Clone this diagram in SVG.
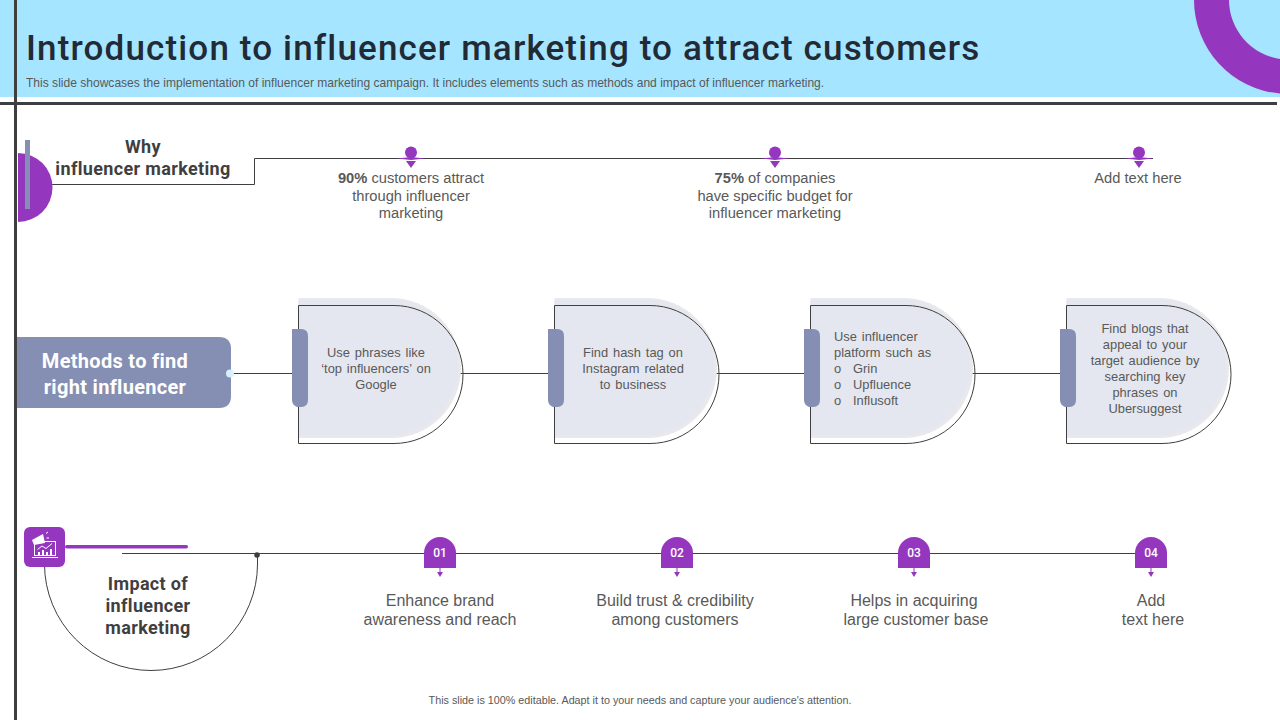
<svg xmlns="http://www.w3.org/2000/svg" width="1280" height="720" viewBox="0 0 1280 720">
<style>
text{font-family:"Liberation Sans",Arial,sans-serif;fill:#595959;text-anchor:middle}
.h{font-family:Roboto,"Liberation Sans",sans-serif;font-weight:700;fill:#3f3f3f;font-size:18px;letter-spacing:.35px}
.m{font-family:Roboto,"Liberation Sans",sans-serif;font-weight:700;font-size:20px;letter-spacing:.3px;fill:#fff}
.b{font-size:14.7px}
.c{font-size:12.9px;word-spacing:1.3px}
.l{text-anchor:start}
.i{font-size:16px}
.ln{fill:none;stroke:#3f3f3f;stroke-width:1}
.p{fill:#9537be}
.s{fill:#858eb3}
.num{font-family:Roboto,"Liberation Sans",sans-serif;font-size:12px;font-weight:500;fill:#fff}
.card{fill:#e4e7ef}
.sh{fill:#e9e9eb}
</style>
<defs>
<g id="card">
<path class="sh" d="M.5 298H93A70 70 0 0 1 93 438H.5Z"/>
<path class="card" d="M.5 300H92.500A67.500 67.500 0 0 1 92.500 435H.5Z"/>
<path class="ln" d="M.5 305.500H96A69 69 0 0 1 96 443.500H.5Z"/>
<path class="s" d="M-6 329H3Q10 329 10 336V400Q10 407 3 407H-1Q-6 405 -6 400Z"/>
</g>
<g id="pin">
<path class="p" d="M-14 158.500L0 157L14 158.500L0 160Z"/>
<circle class="p" cx="0" cy="152.500" r="6"/>
<path class="p" d="M-5 161H5L0 168Z"/>
</g>
<g id="badge">
<path class="p" d="M-16 568V553A16 16 0 0 1 16 553V568Z"/>
<path class="p" d="M-.5 568H.5V573H-.5Z"/>
<path class="p" d="M-3 572H3L0 577Z"/>
</g>
</defs>

<g id="header">
<rect width="1280" height="97" fill="#a6e5ff"/>
<path class="p" d="M1194 0A94 94 0 0 0 1280 93.500V59A60 60 0 0 1 1229 0Z"/>
<rect x="0" y="102" width="1277" height="3" fill="#3f3f3f"/>
<rect x="14" y="0" width="3" height="720" fill="#3f3f3f"/>
<text x="26" y="60" style="text-anchor:start;font-family:Roboto,'Liberation Sans',sans-serif;font-weight:500;font-size:35px;letter-spacing:1.15px;fill:#222a35">Introduction to influencer marketing to attract customers</text>
<text x="26" y="87" style="text-anchor:start;font-size:12.05px">This slide showcases the implementation of influencer marketing campaign. It includes elements such as methods and impact of influencer marketing.</text>
</g>

<g id="connectors">
<path class="ln" d="M52 184.500H254.500V158.500H1153"/>
<path class="ln" d="M232 373.500H298M456 373.500H554M712 373.500H810M968 373.500H1066"/>
<path class="ln" d="M122 553.500H1151"/>
<path class="ln" d="M44.500 564A106.500 106.500 0 0 0 257.500 564V555"/>
</g>

<g id="why">
<path class="p" d="M18 153A34.500 34.500 0 0 1 18 222Z"/>
<rect class="s" x="25" y="140" width="5" height="69"/>
<text class="h" x="143" y="153">Why</text>
<text class="h" x="143" y="175">influencer marketing</text>
</g>

<g id="stat1"><use href="#pin" x="411"/>
<text class="b" x="411" y="183"><tspan font-weight="700">90%</tspan> customers attract</text>
<text class="b" x="411" y="201">through influencer</text>
<text class="b" x="411" y="218">marketing</text></g>
<g id="stat2"><use href="#pin" x="775"/>
<text class="b" x="775" y="183"><tspan font-weight="700">75%</tspan> of companies</text>
<text class="b" x="775" y="201">have specific budget for</text>
<text class="b" x="775" y="218">influencer marketing</text></g>
<g id="stat3"><use href="#pin" x="1139"/>
<text class="b" x="1138" y="183">Add text here</text></g>

<g id="methods">
<path class="s" d="M17 337H219Q231 337 231 349V396Q231 408 219 408H17Z"/>
<circle cx="230" cy="373.500" r="4" fill="#d6f1fc"/>
<text class="m" x="115" y="368">Methods to find</text>
<text class="m" x="115" y="394">right influencer</text>
</g>

<g id="card1"><use href="#card" x="298"/>
<text class="c" x="376" y="357">Use phrases like</text>
<text class="c" x="376" y="373">‘top influencers’ on</text>
<text class="c" x="376" y="389">Google</text></g>
<g id="card2"><use href="#card" x="554"/>
<text class="c" x="633" y="357">Find hash tag on</text>
<text class="c" x="633" y="373">Instagram related</text>
<text class="c" x="633" y="389">to business</text></g>
<g id="card3"><use href="#card" x="810"/>
<text class="c l" x="834" y="341">Use influencer</text>
<text class="c l" x="834" y="357">platform such as</text>
<text class="c l" x="834" y="373">o</text><text class="c l" x="853" y="373">Grin</text>
<text class="c l" x="834" y="389">o</text><text class="c l" x="853" y="389">Upfluence</text>
<text class="c l" x="834" y="405">o</text><text class="c l" x="853" y="405">Influsoft</text></g>
<g id="card4"><use href="#card" x="1066"/>
<text class="c" x="1145" y="333">Find blogs that</text>
<text class="c" x="1145" y="349">appeal to your</text>
<text class="c" x="1145" y="365">target audience by</text>
<text class="c" x="1145" y="381">searching key</text>
<text class="c" x="1145" y="397">phrases on</text>
<text class="c" x="1145" y="413">Ubersuggest</text></g>

<g id="impact">
<rect class="p" x="65" y="545" width="123" height="3.500" rx="1.700"/>
<rect class="p" x="24" y="527" width="41" height="40" rx="6"/>
<g fill="none" stroke="#fff" stroke-width="1">
<rect x="34.500" y="541.500" width="21" height="14"/>
<path d="M32 557.500H58"/>
<path d="M37.500 549.500L42 546L46 548.500L52 543.500"/>
<path d="M46 533.500L48 532M46.500 538H49"/>
</g>
<path fill="#fff" d="M32 540L43 534L45 543L34 545Z"/>
<path fill="#fff" d="M38 555H40V552H38ZM42 555H44V550H42ZM46 555H48V552H46ZM50 555H52V549H50Z"/>
<circle cx="257" cy="555" r="2.800" fill="#3f3f3f"/>
<text class="h" x="148" y="590">Impact of</text>
<text class="h" x="148" y="612">influencer</text>
<text class="h" x="148" y="634">marketing</text>
</g>

<g id="b1"><use href="#badge" x="440"/><text class="num" x="440" y="557">01</text>
<text class="i" x="440" y="606">Enhance brand</text><text class="i" x="440" y="625">awareness and reach</text></g>
<g id="b2"><use href="#badge" x="677"/><text class="num" x="677" y="557">02</text>
<text class="i" x="675" y="606">Build trust &amp; credibility</text><text class="i" x="675" y="625">among customers</text></g>
<g id="b3"><use href="#badge" x="914"/><text class="num" x="914" y="557">03</text>
<text class="i" x="914" y="606">Helps in acquiring</text><text class="i" x="916" y="625">large customer base</text></g>
<g id="b4"><use href="#badge" x="1151"/><text class="num" x="1151" y="557">04</text>
<text class="i" x="1151" y="606">Add</text><text class="i" x="1153" y="625">text here</text></g>

<text x="640" y="704" style="font-size:10.78px">This slide is 100% editable.  Adapt it to your needs and capture your audience's attention.</text>
</svg>
